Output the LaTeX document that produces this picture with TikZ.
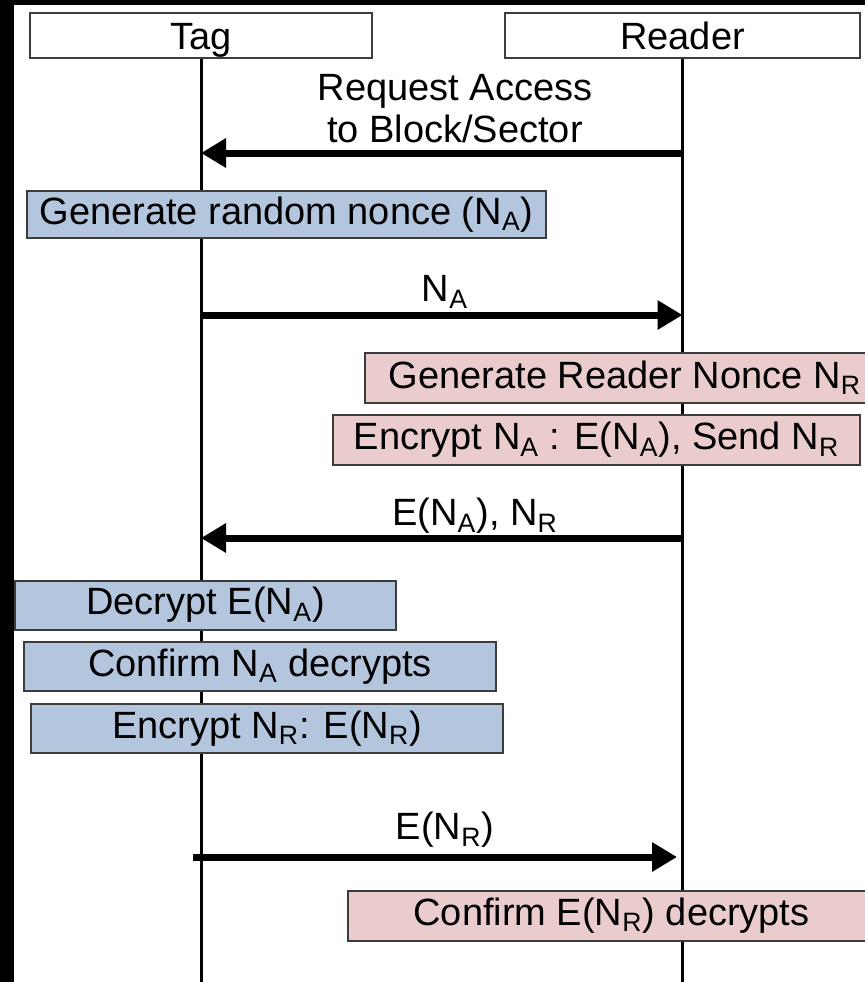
\documentclass[tikz,border=0pt]{standalone}
\usepackage{fontspec}
\setmainfont{Liberation Sans}
\usetikzlibrary{arrows.meta}
\definecolor{tagblue}{RGB}{180,198,222}
\definecolor{rdrpink}{RGB}{234,204,204}
\definecolor{boxline}{RGB}{60,60,60}
\begin{document}
\begin{tikzpicture}[x=0.5pt,y=-0.5pt, font=\fontsize{19}{21}\selectfont,
  hdr/.style={draw=boxline, line width=1pt, fill=white, minimum height=22.5pt, inner sep=0pt, text height=13.7pt, text depth=0pt},
  tagbox/.style={draw=boxline, line width=1pt, fill=tagblue, minimum height=24.5pt, inner sep=0pt},
  rdrbox/.style={draw=boxline, line width=1pt, fill=rdrpink, minimum height=25pt, inner sep=0pt},
  life/.style={line width=1.5pt},
  msg/.style={line width=3.5pt, -{Triangle[length=12.5pt,width=14pt]}},
  lbl/.style={inner sep=0pt, align=center}]
\fill[black] (0,0) rectangle (865,982);
\fill[white] (14,5) rectangle (865,982);
\useasboundingbox (0,0) rectangle (865,982);
\clip (0,0) rectangle (865,982);

% headers
\node[hdr, minimum width=171pt] (tag) at (201,35.5) {Tag};
\node[hdr, minimum width=177.5pt] (reader) at (682.5,35.5) {Reader};

% lifelines
\coordinate (tagend) at (201,990);
\coordinate (rdrend) at (682.5,990);
\draw[life] (tag.south) -- (tagend);
\draw[life] (reader.south) -- (rdrend);

% message end points
\coordinate (m1r) at (682.5,153);
\coordinate (m1t) at (201,153);
\coordinate (m2t) at (201,315);
\coordinate (m2r) at (682.5,315);
\coordinate (m3r) at (682.5,538);
\coordinate (m3t) at (201,538);
\coordinate (m4t) at (193,857);
\coordinate (m4r) at (677,857);

% messages
\draw[msg] (m1r) -- (m1t);
\node[lbl] (l1) at (455,109) {Request Access\\to Block/Sector};
\draw[msg] (m2t) -- (m2r);
\node[lbl] (l2) at (445,292) {N\textsubscript{A}};
\draw[msg] (m3r) -- (m3t);
\node[lbl] (l3) at (475,516) {E(N\textsubscript{A}), N\textsubscript{R}};
\draw[msg] (m4t) -- (m4r);
\node[lbl] (l4) at (445,830) {E(N\textsubscript{R})};

% actions
\node[tagbox, minimum width=259.5pt, minimum height=23.5pt] (b1) at (286.5,214.5) {Generate random nonce (N\textsubscript{A})};
\node[rdrbox, minimum width=260pt] (p1) at (625,378) {Generate Reader Nonce N\textsubscript{R}};
\node[rdrbox, minimum width=263.5pt] (p2) at (596.5,440) {Encrypt N\textsubscript{A} : E(N\textsubscript{A}), Send N\textsubscript{R}};
\node[tagbox, minimum width=190.5pt] (b2) at (205.5,605) {Decrypt E(N\textsubscript{A})};
\node[tagbox, minimum width=236pt] (b3) at (260,666.5) {Confirm N\textsubscript{A} decrypts};
\node[tagbox, minimum width=236pt] (b4) at (267,728.5) {Encrypt N\textsubscript{R}: E(N\textsubscript{R})};
\node[rdrbox, minimum width=263.5pt] (p3) at (611.5,915.5) {Confirm E(N\textsubscript{R}) decrypts};
\end{tikzpicture}
\end{document}
